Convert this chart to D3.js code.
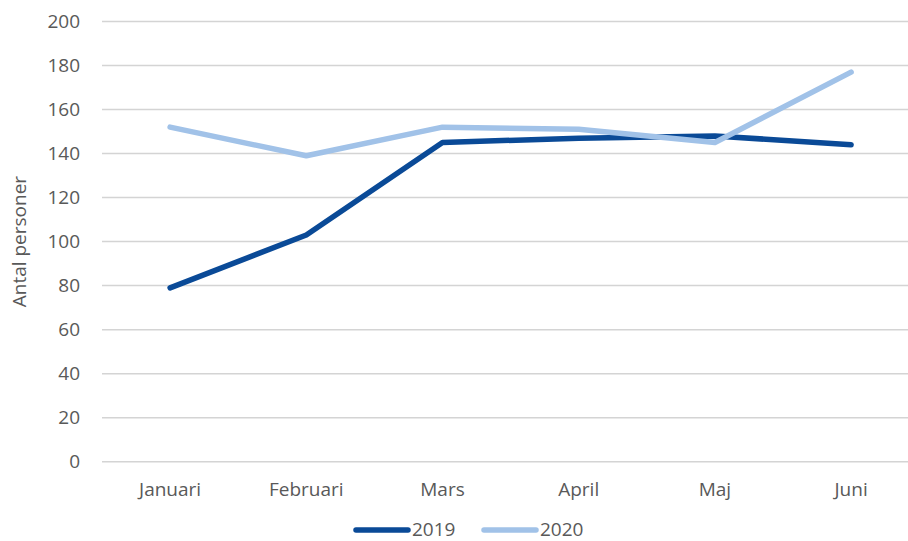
<!DOCTYPE html>
<html>
<head>
<meta charset="utf-8">
<script src="https://cdn.jsdelivr.net/npm/d3@7"></script>
<style>
  body { margin: 0; background: #fff; }
  text { font-family: "Open Sans", "Liberation Sans", sans-serif; fill: #595959; }
</style>
</head>
<body>
<div id="chart"></div>
<script>
var months = ["Januari", "Februari", "Mars", "April", "Maj", "Juni"];
var values2019 = [79, 103, 145, 147, 148, 144];
var values2020 = [152, 139, 152, 151, 145, 177];
var yTicks = [0, 20, 40, 60, 80, 100, 120, 140, 160, 180, 200];

var series = [
    { name: "2019", values: values2019, color: "#0a4a97" },
    { name: "2020", values: values2020, color: "#a1c2e8" }
];

var W = 908, H = 541;
var plotLeft = 102, plotTop = 21.5, plotBottom = 461.7;

var svg = d3.select("#chart")
    .append("svg")
    .attr("width", W)
    .attr("height", H);

// x scale (plot runs past the right edge like the original crop)
var x = d3.scaleBand()
    .domain(months)
    .range([plotLeft, plotLeft + 136.2 * 6]);

var y = d3.scaleLinear()
    .domain([0, 200])
    .range([plotBottom, plotTop]);

// gridlines
svg.append("g")
    .selectAll("line")
    .data(yTicks)
    .enter()
    .append("line")
    .attr("x1", plotLeft)
    .attr("x2", W)
    .attr("y1", function (d) { return y(d); })
    .attr("y2", function (d) { return y(d); })
    .attr("stroke", "#d4d4d4")
    .attr("stroke-width", 1.5);

// y axis labels
var yAxis = d3.axisLeft(y).tickValues(yTicks).tickSize(0).tickPadding(0);
svg.append("g")
    .attr("transform", "translate(80,0)")
    .call(yAxis)
    .call(function (g) { g.select(".domain").remove(); })
    .selectAll("text")
    .attr("font-size", "19px")
    .attr("font-family", "Open Sans, sans-serif")
    .attr("fill", "#595959");

// x axis labels
var xAxis = d3.axisBottom(x).tickSize(0).tickPadding(0);
svg.append("g")
    .attr("transform", "translate(0,482)")
    .call(xAxis)
    .call(function (g) { g.select(".domain").remove(); })
    .selectAll("text")
    .attr("font-size", "19px")
    .attr("font-family", "Open Sans, sans-serif")
    .attr("fill", "#595959");

// y axis title
svg.append("text")
    .attr("transform", "translate(26," + ((plotTop + plotBottom) / 2) + ") rotate(-90)")
    .attr("text-anchor", "middle")
    .attr("font-size", "19px")
    .text("Antal personer");

// lines
var line = d3.line()
    .x(function (d, i) { return x(months[i]) + x.bandwidth() / 2; })
    .y(function (d) { return y(d); });

svg.selectAll(".series")
    .data(series)
    .enter()
    .append("path")
    .attr("class", "series")
    .attr("d", function (d) { return line(d.values); })
    .attr("fill", "none")
    .attr("stroke", function (d) { return d.color; })
    .attr("stroke-width", 5.5)
    .attr("stroke-linejoin", "round")
    .attr("stroke-linecap", "round");

// legend
var legendX = [354, 482];
var legend = svg.selectAll(".legend")
    .data(series)
    .enter()
    .append("g")
    .attr("class", "legend")
    .attr("transform", function (d, i) { return "translate(" + legendX[i] + ",529)"; });

legend.append("line")
    .attr("x1", 2).attr("x2", 54)
    .attr("y1", 1).attr("y2", 1)
    .attr("stroke", function (d) { return d.color; })
    .attr("stroke-width", 5.5)
    .attr("stroke-linecap", "round");

legend.append("text")
    .attr("x", 58)
    .attr("y", 0)
    .attr("dy", "0.35em")
    .attr("font-size", "19px")
    .text(function (d) { return d.name; });
</script>
</body>
</html>
